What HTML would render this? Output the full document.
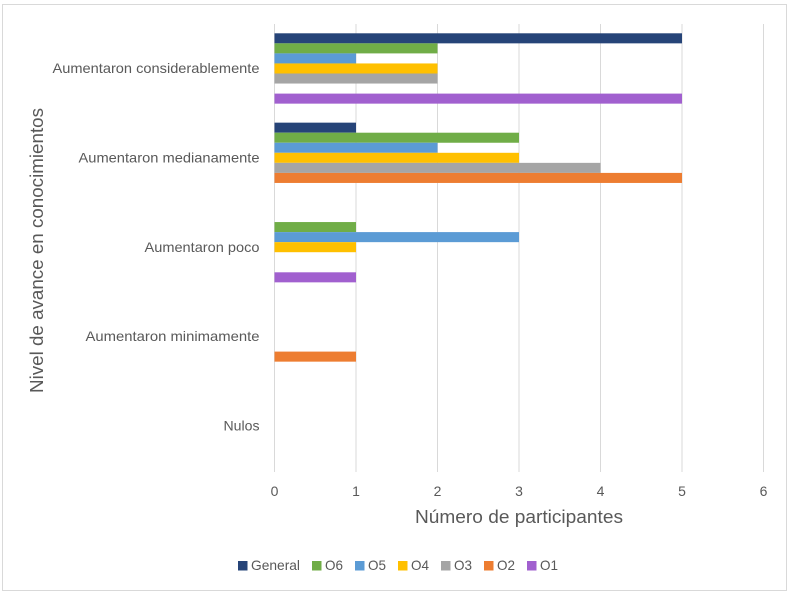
<!DOCTYPE html>
<html lang="es">
<head>
<meta charset="utf-8">
<title>Nivel de avance en conocimientos</title>
<style>
html,body{margin:0;padding:0;background:#fff;}
svg{display:block;}
text{font-family:"Liberation Sans",sans-serif;fill:#595959;}
</style>
</head>
<body>
<svg id="chart" xmlns="http://www.w3.org/2000/svg" width="793" height="593" viewBox="0 0 793 593">
<rect x="2.5" y="4.5" width="784" height="586" fill="#fff" stroke="#d9d9d9" stroke-width="1"/>
<g id="grid"></g>
<g id="bars"></g>
<g id="xticks"></g>
<g id="ycats"></g>
<text x="519" y="523" font-size="18" text-anchor="middle" textLength="208" lengthAdjust="spacingAndGlyphs">Número de participantes</text>
<text transform="translate(43,250.5) rotate(-90)" font-size="18" text-anchor="middle" textLength="285" lengthAdjust="spacingAndGlyphs">Nivel de avance en conocimientos</text>
<g id="legend"></g>
</svg>
<script>
const categories = ["Aumentaron considerablemente", "Aumentaron medianamente", "Aumentaron poco", "Aumentaron minimamente", "Nulos"];
const xTickLabels = [0, 1, 2, 3, 4, 5, 6];
const seriesNames = ["General", "O6", "O5", "O4", "O3", "O2", "O1"];
const seriesColors = ["#264478", "#70ad47", "#5b9bd5", "#ffc000", "#a5a5a5", "#ed7d31", "#a160cf"];
const valuesGeneral = [5, 1, 0, 0, 0];
const valuesO6 = [2, 3, 1, 0, 0];
const valuesO5 = [1, 2, 3, 0, 0];
const valuesO4 = [2, 3, 1, 0, 0];
const valuesO3 = [2, 4, 0, 0, 0];
const valuesO2 = [0, 5, 0, 1, 0];
const valuesO1 = [5, 0, 1, 0, 0];
const seriesValues = [valuesGeneral, valuesO6, valuesO5, valuesO4, valuesO3, valuesO2, valuesO1];

const NS = "http://www.w3.org/2000/svg";
const plotLeft = 274.5, plotRight = 763.5, plotTop = 24, plotBottom = 472;
const xMax = xTickLabels[xTickLabels.length - 1];
function xScale(v) { return plotLeft + (v / xMax) * (plotRight - plotLeft); }
const bandStart = 23.8;
const bandHeight = 89.35;
const barHeight = 10.05;
const bandPad = (bandHeight - barHeight * seriesNames.length) / 2;
function bandTop(i) { return bandStart + i * bandHeight; }
function make(tag, attrs, parent, txt) {
  const el = document.createElementNS(NS, tag);
  for (const k in attrs) el.setAttribute(k, attrs[k]);
  if (txt !== undefined) el.textContent = txt;
  parent.appendChild(el);
  return el;
}

const grid = document.getElementById("grid");
const xticks = document.getElementById("xticks");
xTickLabels.forEach(function (t) {
  const line = make("line", { x1: xScale(t), x2: xScale(t), y1: plotTop, y2: plotBottom, stroke: "#d9d9d9", "stroke-width": 1 }, grid);
  
  
  const label = make("text", { x: xScale(t), y: 496, "font-size": 14, "text-anchor": "middle" }, xticks, String(t));
  
  
});

const ycats = document.getElementById("ycats");
const catWidths = [207, 181, 115, 174, 36];
categories.forEach(function (c, i) {
  const label = make("text", { x: 259.5, y: bandTop(i) + bandHeight / 2 + 4.7, "font-size": 14, "text-anchor": "end", textLength: catWidths[i], lengthAdjust: "spacingAndGlyphs" }, ycats, c);
  
  
});

const bars = document.getElementById("bars");
seriesValues.forEach(function (vals, s) {
  vals.forEach(function (v, i) {
    if (v <= 0) return;
    const bar = make("rect", { x: xScale(0), y: bandTop(i) + bandPad + s * barHeight, width: xScale(v) - xScale(0), height: barHeight, fill: seriesColors[s] }, bars);
    
    
  });
});

const legend = document.getElementById("legend");
let legendX = 238;
seriesNames.forEach(function (n, s) {
  const textW = s === 0 ? 49 : 18;
  const swatch = make("rect", { x: legendX, y: 561, width: 9.5, height: 9.5, fill: seriesColors[s] }, legend);
  
  
  const label = make("text", { x: legendX + 13, y: 570, "font-size": 14, textLength: textW, lengthAdjust: "spacingAndGlyphs" }, legend, n);
  
  
  legendX += 13 + textW + 12;
});
</script>
</body>
</html>
